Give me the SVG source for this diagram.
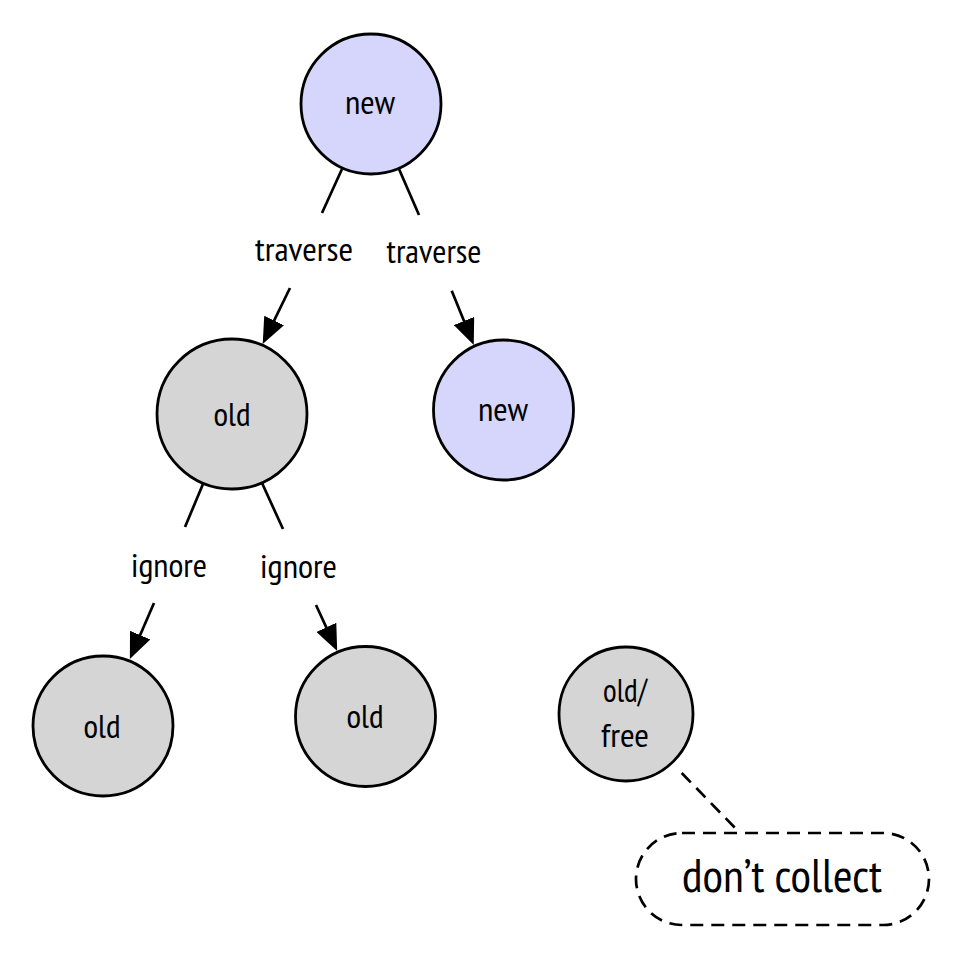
<svg xmlns="http://www.w3.org/2000/svg" width="963" height="957" viewBox="0 0 963 957">
<style>
  .node { stroke: #000; stroke-width: 2.8; }
  .new { fill: #d6d6fc; }
  .old { fill: #d5d5d5; }
  .edge { stroke: #000; stroke-width: 2.7; fill: none; }
  .dash { stroke: #000; stroke-width: 2.7; fill: none; stroke-dasharray: 13 8; }
  text { font-family: "PT Sans Narrow", "DejaVu Sans Condensed", "Liberation Sans Narrow", "Roboto Condensed", "Liberation Sans", sans-serif; fill: #000; text-anchor: middle; }
  .nt { font-size: 33px; }
  .lt { font-size: 32px; }
  .pt { font-size: 46px; }
</style>
<defs>
  <marker id="arrow" markerUnits="userSpaceOnUse" markerWidth="26" markerHeight="22" refX="16" refY="11" orient="auto" viewBox="0 0 26 22">
    <path d="M0,0 L26,11 L0,22 z" fill="#000"/>
  </marker>
</defs>
<g id="connectors">
  <line class="edge" x1="342" y1="169" x2="322" y2="213"/>
  <line class="edge" x1="290" y1="288" x2="267.1" y2="334.9" marker-end="url(#arrow)"/>
  <line class="edge" x1="399" y1="169" x2="419" y2="215"/>
  <line class="edge" x1="451.7" y1="290.7" x2="470" y2="335.8" marker-end="url(#arrow)"/>
  <line class="edge" x1="203" y1="484" x2="185" y2="527"/>
  <line class="edge" x1="154" y1="603" x2="133.8" y2="649.8" marker-end="url(#arrow)"/>
  <line class="edge" x1="262" y1="483" x2="283" y2="529"/>
  <line class="edge" x1="316" y1="605" x2="333" y2="641.9" marker-end="url(#arrow)"/>
  <line class="dash" x1="681.7" y1="773" x2="740" y2="833"/>
  <text class="lt" x="304" y="261" textLength="98" lengthAdjust="spacingAndGlyphs">traverse</text>
  <text class="lt" x="434" y="263" textLength="95" lengthAdjust="spacingAndGlyphs">traverse</text>
  <text class="lt" x="169" y="577" textLength="76" lengthAdjust="spacingAndGlyphs">ignore</text>
  <text class="lt" x="298.5" y="578" textLength="77" lengthAdjust="spacingAndGlyphs">ignore</text>
</g>
<g id="node-root">
  <circle class="node new" cx="371" cy="104" r="70"/>
  <text class="nt" x="370" y="114" textLength="50" lengthAdjust="spacingAndGlyphs">new</text>
</g>
<g id="node-old-1">
  <circle class="node old" cx="232" cy="414" r="75"/>
  <text class="nt" x="232" y="426" textLength="37" lengthAdjust="spacingAndGlyphs">old</text>
</g>
<g id="node-new-2">
  <circle class="node new" cx="503.5" cy="410" r="70"/>
  <text class="nt" x="503" y="421" textLength="50" lengthAdjust="spacingAndGlyphs">new</text>
</g>
<g id="node-old-left">
  <circle class="node old" cx="103" cy="726" r="70"/>
  <text class="nt" x="102" y="738" textLength="37" lengthAdjust="spacingAndGlyphs">old</text>
</g>
<g id="node-old-mid">
  <circle class="node old" cx="365.5" cy="716.5" r="70"/>
  <text class="nt" x="365" y="728" textLength="37" lengthAdjust="spacingAndGlyphs">old</text>
</g>
<g id="node-old-free">
  <circle class="node old" cx="626" cy="714" r="67"/>
  <text class="nt" x="625" y="702" textLength="44" lengthAdjust="spacingAndGlyphs">old/</text>
  <text class="nt" x="625" y="747" textLength="48" lengthAdjust="spacingAndGlyphs">free</text>
</g>
<g id="note">
  <rect class="dash" x="636" y="833" width="293" height="92" rx="46" ry="46"/>
  <text class="pt" x="782" y="892" textLength="200" lengthAdjust="spacingAndGlyphs">don’t collect</text>
</g>
</svg>
